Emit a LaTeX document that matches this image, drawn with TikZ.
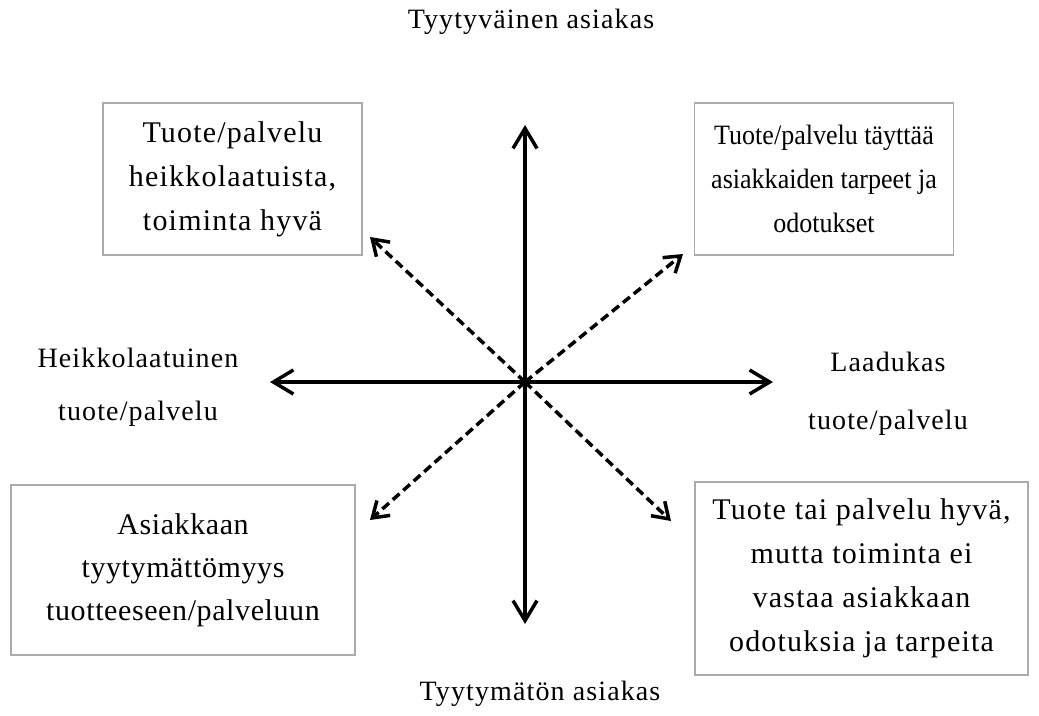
\documentclass[tikz,border=0pt]{standalone}
\usepackage{fontspec}
\setmainfont{Liberation Serif}[LetterSpace=4]
\usetikzlibrary{arrows.meta}

\begin{document}
\begin{tikzpicture}[x=1pt,y=-1pt,
  axis/.style={line width=3.8pt,{Straight Barb[length=20pt,width=24pt,line width=3.5pt]}-{Straight Barb[length=20pt,width=24pt,line width=3.5pt]}},
  diag/.style={line width=3.5pt,dash pattern=on 9pt off 5pt,-{Straight Barb[length=15pt,width=20pt,line width=3.5pt]}},
  box/.style={draw=black!33,line width=1.6pt,align=center,inner sep=0pt,
    font=\fontsize{30}{44}\selectfont},
  lbl/.style={align=center,inner sep=0pt,font=\fontsize{28}{44}\selectfont}]
\useasboundingbox (0,0) rectangle (1039,715);

% centre of the axes and the arrow ends
\coordinate (c) at (525,382);
\coordinate (top) at (525,125);
\coordinate (bot) at (525,624);
\coordinate (lft) at (270,382);
\coordinate (rgt) at (773,382);
\coordinate (ul) at (370,237);
\coordinate (ur) at (683,254);
\coordinate (dl) at (370,520);
\coordinate (dr) at (671,521);

% axis labels
\node[lbl,anchor=base] (sat) at (531,28) {Tyytyväinen asiakas};
\node[lbl,anchor=base] (unsat) at (540,700) {Tyytymätön asiakas};
\node[lbl,font=\fontsize{28}{53}\selectfont] (poor) at (138,387) {Heikkolaatuinen\\tuote/palvelu};
\node[lbl,font=\fontsize{28}{58}\selectfont] (good) at (888,394) {Laadukas\\tuote/palvelu};

% quadrant boxes
\node[box,minimum width=259pt,minimum height=152pt] (q1) at (232.5,179)
  {Tuote/palvelu\\heikkolaatuista,\\toiminta hyvä};
\node[box,minimum width=259pt,minimum height=152pt,
  font=\addfontfeatures{LetterSpace=0,FakeStretch=0.93}\fontsize{28}{44}\selectfont] (q2) at (824,179)
  {Tuote/palvelu täyttää\\asiakkaiden tarpeet ja\\odotukset};
\node[box,minimum width=344pt,minimum height=170pt,
  font=\addfontfeatures{LetterSpace=2}\fontsize{30}{43}\selectfont] (q3) at (183,570)
  {Asiakkaan\\tyytymättömyys\\tuotteeseen/palveluun};
\node[box,minimum width=333pt,minimum height=193pt] (q4) at (861.5,578.5)
  {Tuote tai palvelu hyvä,\\mutta toiminta ei\\vastaa asiakkaan\\odotuksia ja tarpeita};

% axes
\draw[axis] (bot) -- (top);
\draw[axis] (lft) -- (rgt);

% dashed diagonals
\draw[diag] (c) -- (ul);
\draw[diag] (c) -- (ur);
\draw[diag] (c) -- (dl);
\draw[diag] (c) -- (dr);
\end{tikzpicture}
\end{document}
